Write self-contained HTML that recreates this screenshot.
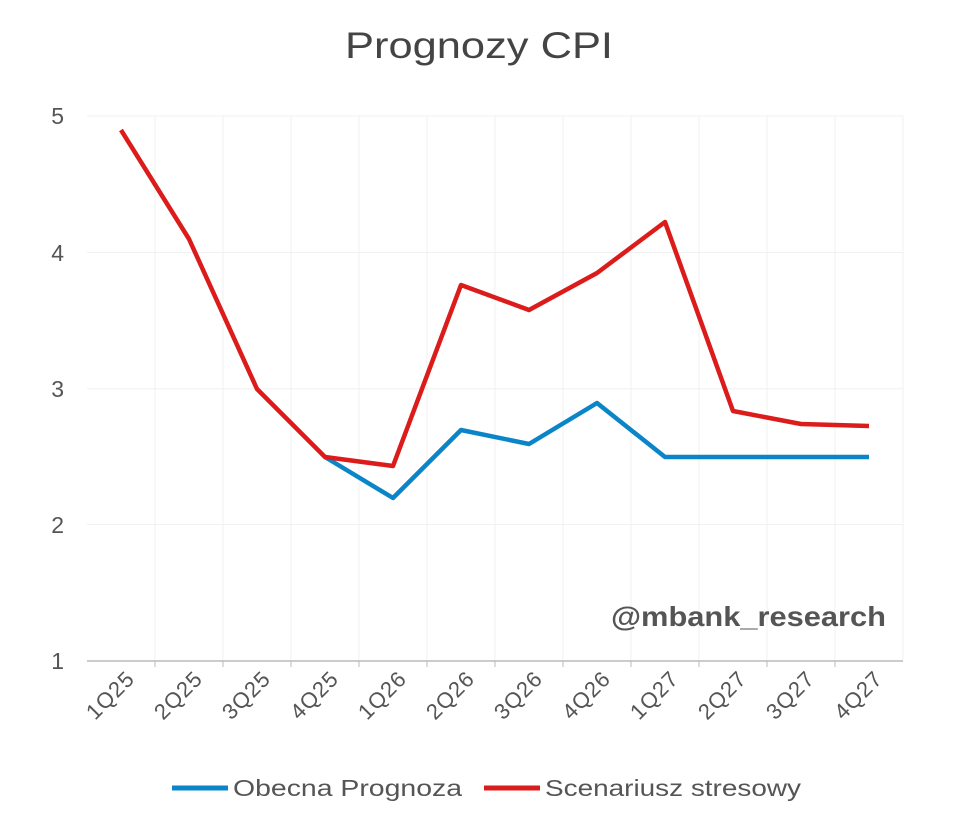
<!DOCTYPE html>
<html><head><meta charset="utf-8"><style>body{margin:0;background:#fff}svg{display:block;font-family:"Liberation Sans",sans-serif}</style></head><body>
<svg width="960" height="837" viewBox="0 0 960 837">
<text x="345" y="58" textLength="268" lengthAdjust="spacingAndGlyphs" font-size="37" fill="#444">Prognozy CPI</text>
<g stroke="#f0f0f0" stroke-width="1">
<line x1="87" y1="116" x2="903" y2="116"/><line x1="87" y1="252.5" x2="903" y2="252.5"/><line x1="87" y1="388.75" x2="903" y2="388.75"/><line x1="87" y1="524.5" x2="903" y2="524.5"/>
<line x1="155" y1="116" x2="155" y2="661"/><line x1="223" y1="116" x2="223" y2="661"/><line x1="291" y1="116" x2="291" y2="661"/><line x1="359" y1="116" x2="359" y2="661"/><line x1="427" y1="116" x2="427" y2="661"/><line x1="495" y1="116" x2="495" y2="661"/><line x1="563" y1="116" x2="563" y2="661"/><line x1="631" y1="116" x2="631" y2="661"/><line x1="699" y1="116" x2="699" y2="661"/><line x1="767" y1="116" x2="767" y2="661"/><line x1="835" y1="116" x2="835" y2="661"/><line x1="903" y1="116" x2="903" y2="661"/>
</g>
<line x1="87" y1="661" x2="903" y2="661" stroke="#bbb" stroke-width="1.5"/>
<g stroke="#bbb"><line x1="155" y1="661" x2="155" y2="667"/><line x1="223" y1="661" x2="223" y2="667"/><line x1="291" y1="661" x2="291" y2="667"/><line x1="359" y1="661" x2="359" y2="667"/><line x1="427" y1="661" x2="427" y2="667"/><line x1="495" y1="661" x2="495" y2="667"/><line x1="563" y1="661" x2="563" y2="667"/><line x1="631" y1="661" x2="631" y2="667"/><line x1="699" y1="661" x2="699" y2="667"/><line x1="767" y1="661" x2="767" y2="667"/><line x1="835" y1="661" x2="835" y2="667"/></g>
<g font-size="23" fill="#555" text-anchor="end">
<text x="64" y="124">5</text><text x="64" y="261">4</text><text x="64" y="397">3</text><text x="64" y="533">2</text><text x="64" y="669">1</text>
</g>
<g font-size="22" fill="#555" text-anchor="end" letter-spacing="1">
<text transform="translate(136,680) rotate(-45)">1Q25</text><text transform="translate(204,680) rotate(-45)">2Q25</text><text transform="translate(272,680) rotate(-45)">3Q25</text><text transform="translate(340,680) rotate(-45)">4Q25</text><text transform="translate(408,680) rotate(-45)">1Q26</text><text transform="translate(476,680) rotate(-45)">2Q26</text><text transform="translate(544,680) rotate(-45)">3Q26</text><text transform="translate(612,680) rotate(-45)">4Q26</text><text transform="translate(680,680) rotate(-45)">1Q27</text><text transform="translate(748,680) rotate(-45)">2Q27</text><text transform="translate(816,680) rotate(-45)">3Q27</text><text transform="translate(884,680) rotate(-45)">4Q27</text>
</g>
<polyline fill="none" stroke="#0a86c8" stroke-width="4.5" stroke-linejoin="round" points="325,457 393,498 461,430 529,444 597,403 665,457 733,457 801,457 869,457"/>
<polyline fill="none" stroke="#dc1b1b" stroke-width="4.5" stroke-linejoin="round" points="121,130 189,239 257,389 325,457 393,466 461,285 529,310 597,273 665,222 733,411 801,424 869,426"/>
<text x="611" y="626" textLength="275" lengthAdjust="spacingAndGlyphs" font-size="28" font-weight="bold" fill="#555">@mbank_research</text>
<line x1="172" y1="788" x2="228" y2="788" stroke="#0a86c8" stroke-width="5"/>
<text x="233" y="796" textLength="229" lengthAdjust="spacingAndGlyphs" font-size="23" fill="#555">Obecna Prognoza</text>
<line x1="484" y1="788" x2="540" y2="788" stroke="#dc1b1b" stroke-width="5"/>
<text x="545" y="796" textLength="256" lengthAdjust="spacingAndGlyphs" font-size="23" fill="#555">Scenariusz stresowy</text>
</svg>
</body></html>
